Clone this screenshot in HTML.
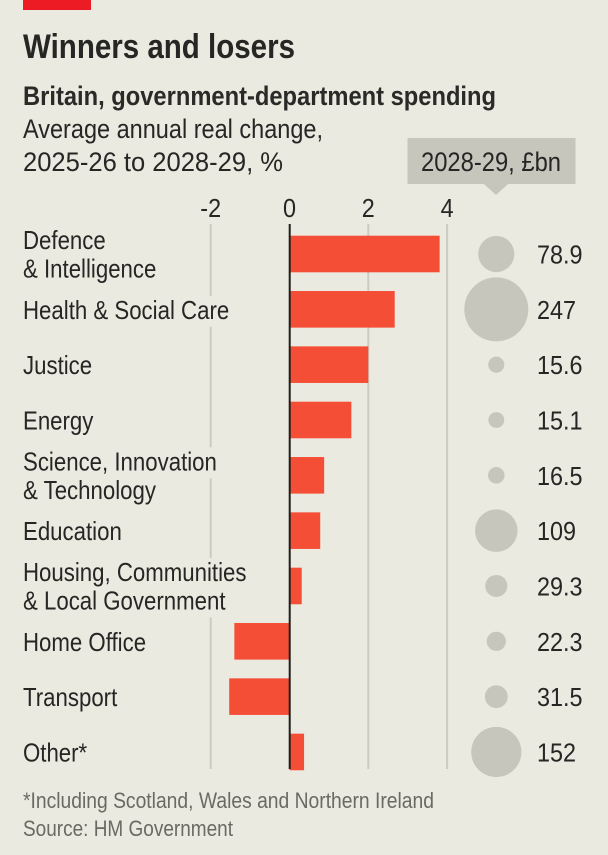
<!DOCTYPE html>
<html lang="en">
<head>
<meta charset="utf-8">
<title>Winners and losers</title>
<style>
html,body{margin:0;padding:0;background:#ebeae0;}
svg{display:block;font-family:"Liberation Sans",sans-serif;fill:#262624;}
</style>
</head>
<body>
<svg id="chart" xmlns="http://www.w3.org/2000/svg" width="608" height="855" viewBox="0 0 608 855">
  <rect x="0" y="0" width="608" height="855" fill="#ebeae0"/>
  <rect x="23" y="0" width="68" height="10" fill="#ed1c24"/>
  <text x="23" y="58" font-size="34" font-weight="700" textLength="272" lengthAdjust="spacingAndGlyphs">Winners and losers</text>
  <text x="23" y="105" font-size="27" font-weight="700" textLength="473" lengthAdjust="spacingAndGlyphs" fill="#2a2a28">Britain, government-department spending</text>
  <text x="23" y="138" font-size="27" textLength="300" lengthAdjust="spacingAndGlyphs">Average annual real change,</text>
  <text x="23" y="171" font-size="27" textLength="260" lengthAdjust="spacingAndGlyphs">2025-26 to 2028-29, %</text>
  <path d="M407.5 138H575.5V184H508L496 195L484 184H407.5Z" fill="#c6c6bd"/>
  <text x="421" y="171" font-size="27" textLength="140" lengthAdjust="spacingAndGlyphs">2028-29, £bn</text>
  <g id="grid"></g>
  <g id="masks"></g>
  <g id="ticks"></g>
  <g id="bars"></g>
  <line x1="289.7" x2="289.7" y1="224" y2="769" stroke="#1f1e1c" stroke-width="2"/>
  <g id="labels"></g>
  <g id="bubbles"></g>
  <g id="values"></g>
  <text x="23" y="808" font-size="22.5" fill="#6a6a65" textLength="411" lengthAdjust="spacingAndGlyphs">*Including Scotland, Wales and Northern Ireland</text>
  <text x="23" y="836" font-size="22.5" fill="#6a6a65" textLength="210" lengthAdjust="spacingAndGlyphs">Source: HM Government</text>
</svg>
<script>
const categories = [
  ["Defence", "& Intelligence"],
  ["Health & Social Care"],
  ["Justice"],
  ["Energy"],
  ["Science, Innovation", "& Technology"],
  ["Education"],
  ["Housing, Communities", "& Local Government"],
  ["Home Office"],
  ["Transport"],
  ["Other*"]
];
const changeValues = [3.81, 2.67, 2.0, 1.57, 0.88, 0.78, 0.31, -1.40, -1.53, 0.37];
const spendingValues = [78.9, 247, 15.6, 15.1, 16.5, 109, 29.3, 22.3, 31.5, 152];
const spendingLabels = ["78.9", "247", "15.6", "15.1", "16.5", "109", "29.3", "22.3", "31.5", "152"];
const tickValues = [-2, 0, 2, 4];

const NS = "http://www.w3.org/2000/svg";
const xScale = v => 289.5 + v * 39.4;
const rowY = i => 254 + i * 55.33;
const rScale = v => 2.036 * Math.sqrt(v);
const BAR_H = 36.6;
const FONT_SIZE = 26;
const TEXT_SCALE = 0.855;
const VALUE_SCALE = 0.9;
const BG = "#ebeae0";

function mk(tag, parent, attrs) {
  const el = document.createElementNS(NS, tag);
  for (const k in attrs) el.setAttribute(k, attrs[k]);
  parent.appendChild(el);
  return el;
}
const grid = document.getElementById("grid");
const masks = document.getElementById("masks");
const ticks = document.getElementById("ticks");
const bars = document.getElementById("bars");
const labels = document.getElementById("labels");
const bubbles = document.getElementById("bubbles");
const values = document.getElementById("values");

tickValues.forEach(t => {
  if (t !== 0) {
    const g = mk("line", grid, {x1: xScale(t), x2: xScale(t), y1: 224, y2: 769, stroke: "#cbcbc2", "stroke-width": 2});
    
    
  }
  const tl = mk("text", ticks, {transform: "translate(" + xScale(t) + ",217) scale(" + VALUE_SCALE + ",1)", "font-size": FONT_SIZE, "text-anchor": "middle"});
  tl.textContent = String(t);
  
  
});

categories.forEach((lines, i) => {
  const cy = rowY(i);
  const v = changeValues[i];
  const x0 = xScale(Math.min(0, v));
  const x1 = xScale(Math.max(0, v));
  const bar = mk("rect", bars, {x: x0, y: cy - BAR_H / 2, width: x1 - x0, height: BAR_H, fill: "#f44f36"});
  
  

  lines.forEach((line, j) => {
    const base = lines.length === 1 ? cy + 9.5 : cy - 5 + j * 28.5;
    const t = mk("text", labels, {transform: "translate(23," + base + ") scale(" + TEXT_SCALE + ",1)", "font-size": FONT_SIZE});
    t.textContent = line;
    
    
    const right = 23 + t.getComputedTextLength() * TEXT_SCALE;
    if (right > xScale(-2) - 3) {
      const m = mk("rect", masks, {x: xScale(-2) - 2, y: base - 23, width: 4, height: 31, fill: BG});
      
      
    }
  });

  const c = mk("circle", bubbles, {cx: 496.3, cy: cy, r: rScale(spendingValues[i]), fill: "#c6c6bd"});
  
  

  const vt = mk("text", values, {transform: "translate(537," + (cy + 9.5) + ") scale(" + VALUE_SCALE + ",1)", "font-size": FONT_SIZE});
  vt.textContent = spendingLabels[i];
  
  
});
</script>
</body>
</html>
